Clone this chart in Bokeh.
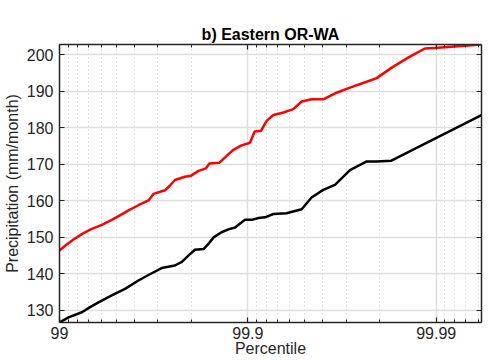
import math
from bokeh.plotting import figure
from bokeh.models import Range1d, FixedTicker, LogAxis, LinearAxis, CustomJSTickFormatter
from bokeh.embed import file_html
from bokeh.resources import INLINE

# ---------------- data ----------------
title_text = "b) Eastern OR-WA"
x_label = "Percentile"
y_label = "Precipitation (mm/month)"

red_pct = [99.000, 99.066, 99.157, 99.239, 99.312, 99.404, 99.472, 99.514, 99.570,
           99.619, 99.663, 99.683, 99.725, 99.741, 99.756, 99.784, 99.800, 99.817,
           99.833, 99.840, 99.858, 99.868, 99.880, 99.892, 99.9025, 99.908, 99.915,
           99.9205, 99.9268, 99.9352, 99.9426, 99.9482, 99.9541, 99.9602, 99.9662,
           99.9713, 99.9766, 99.9793, 99.9827, 99.9859, 99.9885, 99.9902, 99.99425]
red_val = [146.4, 147.7, 149.4, 150.9, 152.1, 153.4, 154.8, 155.8, 157.4,
           158.8, 160.1, 161.9, 162.9, 164.2, 165.7, 166.6, 166.9, 168.2,
           168.9, 170.2, 170.4, 171.9, 173.9, 175.2, 175.9, 179.0, 179.2,
           181.9, 183.5, 184.2, 185.1, 187.2, 187.8, 187.8, 189.6,
           191.0, 192.6, 193.6, 196.4, 199.2, 201.7, 201.9, 202.8]

black_pct = [99.000, 99.104, 99.239, 99.312, 99.379, 99.472, 99.551, 99.619, 99.663,
             99.713, 99.756, 99.776, 99.793, 99.809, 99.828, 99.838, 99.848, 99.862,
             99.873, 99.883, 99.8964, 99.9046, 99.9121, 99.9189, 99.9268, 99.9377,
             99.9482, 99.9541, 99.9602, 99.9655, 99.9713, 99.9766, 99.9793, 99.9827,
             99.99425]
black_val = [126.7, 128.1, 129.5, 130.9, 132.2, 134.1, 135.9, 138.2, 139.7,
             141.6, 142.3, 143.3, 145.0, 146.6, 146.8, 148.2, 150.0, 151.4,
             152.2, 152.7, 154.8, 154.8, 155.3, 155.5, 156.4, 156.6,
             157.7, 160.9, 163.0, 164.4, 168.4, 170.8, 170.8, 171.0,
             183.5]

x_tick_pct = [99.0, 99.9, 99.99]
x_tick_labels = ["99", "99.9", "99.99"]
x_minor_pct = [99.1, 99.2, 99.3, 99.4, 99.5, 99.6, 99.7, 99.8,
               99.91, 99.92, 99.93, 99.94, 99.95, 99.96, 99.97, 99.98,
               99.991, 99.992, 99.993, 99.994]
y_ticks = [130, 140, 150, 160, 170, 180, 190, 200]

# ---------------- helpers ----------------
def exceed(p):
    return round(100.0 - p, 6)

red_q = [exceed(v) for v in red_pct]
black_q = [exceed(v) for v in black_pct]
major_q = [exceed(v) for v in x_tick_pct]
minor_q = [exceed(v) for v in x_minor_pct]

FONT = "Liberation Sans"
AX = "#262626"

all_vals = red_val + black_val
p = figure(width=498, height=360, x_axis_type="log",
           x_range=Range1d(start=max(red_q + black_q), end=min(red_q + black_q)),
           y_range=Range1d(start=min(all_vals), end=max(all_vals)),
           output_backend="svg", toolbar_location=None,
           min_border_left=58, min_border_right=17, min_border_top=44, min_border_bottom=38,
           title=title_text)
p.background_fill_color = "white"
p.border_fill_color = "white"
p.outline_line_color = None

p.title.text_font = FONT
p.title.text_font_size = "16px"
p.title.text_font_style = "bold"
p.title.text_color = "#000000"
p.title.align = "center"
p.title.standoff = 3

bottom_ax = p.below[0]
left_ax = p.left[0]

xt = FixedTicker(ticks=major_q, minor_ticks=minor_q)
yt = FixedTicker(ticks=y_ticks, minor_ticks=[])

x_fmt = CustomJSTickFormatter(args=dict(major_vals=major_q, major_labels=x_tick_labels), code="""
for (let i = 0; i < major_vals.length; i++) {
  if (Math.abs(Math.log10(tick) - Math.log10(major_vals[i])) < 1e-6) { return major_labels[i]; }
}
return '';
""")
blank_fmt = CustomJSTickFormatter(code="return '';")

top_ax = LogAxis()
right_ax = LinearAxis()
p.add_layout(top_ax, "above")
p.add_layout(right_ax, "right")

for ax in [bottom_ax, top_ax]:
    ax.ticker = xt
for ax in [left_ax, right_ax]:
    ax.ticker = yt
bottom_ax.formatter = x_fmt

for ax in [bottom_ax, top_ax, left_ax, right_ax]:
    ax.axis_line_color = AX
    ax.axis_line_width = 1.5
    ax.major_tick_line_color = AX
    ax.major_tick_line_width = 1.2
    ax.minor_tick_line_color = AX
    ax.minor_tick_line_width = 1.0
    ax.major_tick_in = 5
    ax.major_tick_out = 0
    ax.minor_tick_in = 3
    ax.minor_tick_out = 0
    ax.major_label_text_font = FONT
    ax.major_label_text_font_size = "16px"
    ax.major_label_text_color = AX
    ax.axis_label_text_font = FONT
    ax.axis_label_text_font_size = "16px"
    ax.axis_label_text_font_style = "normal"
    ax.axis_label_text_color = AX

for ax in [top_ax, right_ax]:
    ax.formatter = blank_fmt
    ax.major_label_text_font_size = "1px"
    ax.major_label_standoff = 0
    ax.axis_label = None

left_ax.minor_tick_line_color = None
right_ax.minor_tick_line_color = None

bottom_ax.axis_label = x_label
bottom_ax.major_label_standoff = 4
bottom_ax.axis_label_standoff = -2
left_ax.axis_label = y_label
left_ax.major_label_standoff = 6
left_ax.axis_label_standoff = 3

p.xgrid.ticker = xt
p.ygrid.ticker = yt
p.xgrid.grid_line_color = "#dedede"
p.xgrid.grid_line_width = 1.5
p.ygrid.grid_line_color = "#dedede"
p.ygrid.grid_line_width = 1.5
p.xgrid.minor_grid_line_color = "#c4c4c4"
p.xgrid.minor_grid_line_dash = "1 3"
p.xgrid.minor_grid_line_width = 1

p.line(red_q, red_val, line_color="#ff0000", line_width=2.5)
p.line(black_q, black_val, line_color="#000000", line_width=2.5)

open("out.html", "w").write(file_html(p, INLINE))
